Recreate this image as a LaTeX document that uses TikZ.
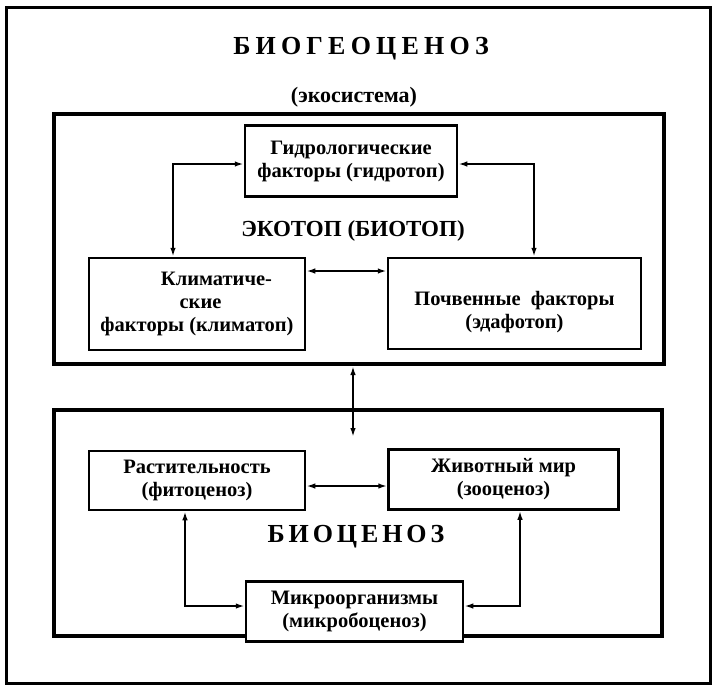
\documentclass[tikz,border=0pt]{standalone}
\usepackage{fontspec}
\setmainfont{Liberation Serif}
\newfontfamily\spacedA[LetterSpace=20]{Liberation Serif}
\newfontfamily\spacedB[LetterSpace=15]{Liberation Serif}
\usetikzlibrary{arrows.meta}
\begin{document}
\begin{tikzpicture}[x=1pt,y=-1pt,
  box/.style={draw, line width=2.5pt, fill=white, align=center, inner sep=0pt,
    font=\bfseries\fontsize{20.5}{23}\selectfont},
  frame/.style={draw, line width=4pt, inner sep=0pt},
  tip/.tip={Latex[length=9pt,width=5.5pt]},
  arr/.style={line width=1.8pt, tip-tip},
]
\useasboundingbox (0,0) rectangle (712,686);
% outer frame
\node[draw, line width=3pt, inner sep=0pt, minimum width=704pt, minimum height=676pt] (outer) at (358,345) {};
% titles
\node[font=\spacedA\bfseries\fontsize{26}{28}\selectfont] (title) at (361,49) {БИОГЕОЦЕНОЗ};
\node[font=\bfseries\fontsize{22}{24}\selectfont] (sub) at (354,97) {(экосистема)};
% frames
\node[frame, minimum width=610pt, minimum height=250pt] (eko) at (359,239) {};
\node[frame, minimum width=608pt, minimum height=226pt] (bio) at (358,523) {};
% ecotop boxes
\node[box, minimum width=212pt, minimum height=71pt] (hyd) at (351,161)
  {Гидрологические\\факторы (гидротоп)};
\node[box, minimum width=216pt, minimum height=92pt] (klim) at (197,304)
  {\hspace*{39pt}Климатиче-\\\hspace*{7pt}ские\\факторы (климатоп)};
\node[box, minimum width=253pt, minimum height=91pt] (soil) at (514.5,303.5)
  {\raisebox{-9pt}[\height][\depth]{\begin{tabular}{@{}c@{}}Почвенные\enspace факторы\\(эдафотоп)\end{tabular}}};
\node[font=\bfseries\fontsize{23}{26}\selectfont] (ekolabel) at (353,231) {ЭКОТОП (БИОТОП)};
% biocenosis boxes
\node[box, minimum width=216pt, minimum height=59pt] (rast) at (197,480.5)
  {Растительность\\(фитоценоз)};
\node[box, minimum width=230pt, minimum height=60pt] (zhiv) at (503.5,479.5)
  {Животный мир\\(зооценоз)};
\node[font=\spacedB\bfseries\fontsize{26}{28}\selectfont] (biolabel) at (356,537) {БИОЦЕНОЗ};
\node[box, minimum width=217pt, minimum height=60pt] (micro) at (354.5,611.5)
  {Микроорганизмы\\(микробоценоз)};
% connectors
\draw[arr] (hyd.west |- 0,164) -| (klim.north -| 173,0);
\draw[arr] (hyd.east |- 0,164) -| (soil.north -| 534,0);
\draw[arr] (klim.east |- 0,271) -- (soil.west |- 0,271);
\coordinate (vend) at (353,437);
\draw[arr] (eko.south -| vend) -- (vend);
\draw[arr] (rast.east |- 0,486) -- (zhiv.west |- 0,486);
\draw[arr] (rast.south -| 185,0) |- (micro.west |- 0,606);
\draw[arr] (zhiv.south -| 520,0) |- (micro.east |- 0,606);
\end{tikzpicture}
\end{document}
